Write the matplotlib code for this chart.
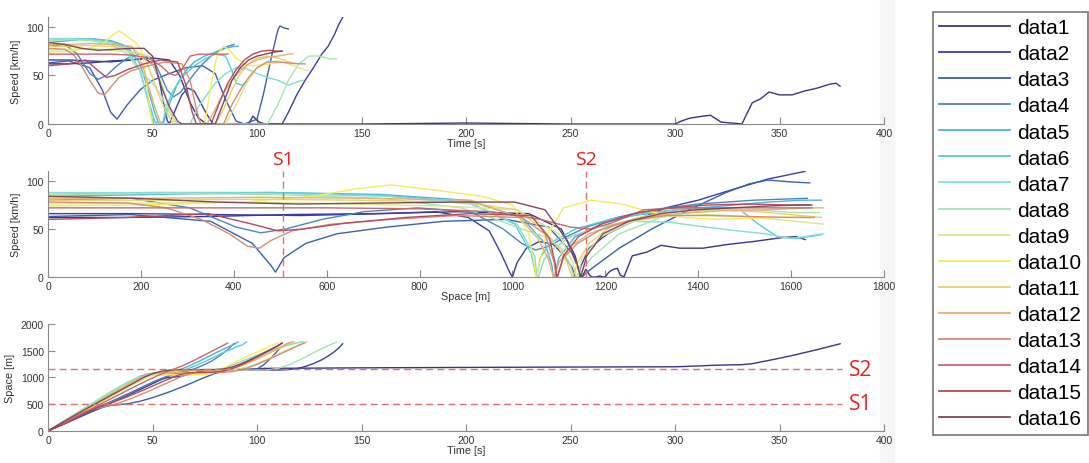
import numpy as np
import matplotlib
matplotlib.use('Agg')
import matplotlib.pyplot as plt
from matplotlib.patches import Rectangle

plt.rcParams['font.family'] = ['Liberation Sans', 'DejaVu Sans']

# each row: time [s], position [m], speed [km/h]
data1 = [(0, 0, 62), (10, 172, 62), (20, 345, 63), (30, 520, 65), (40, 700, 66), (50, 885, 68),
         (58, 1035, 66), (63, 1105, 50), (68, 1135, 22), (72, 1143, 6), (76, 1146, 0), (96, 1150, 0),
         (98, 1158, 8), (101, 1166, 2), (104, 1170, 0), (150, 1180, 0), (200, 1188, 1), (250, 1195, 0),
         (300, 1200, 0), (303, 1204, 3), (307, 1210, 6), (313, 1218, 8), (317, 1226, 9), (322, 1232, 2),
         (332, 1240, 0), (337, 1258, 22), (341, 1290, 26), (345, 1320, 33), (350, 1360, 30),
         (356, 1410, 30), (362, 1465, 34), (368, 1520, 37), (374, 1580, 41), (377, 1610, 42), (379, 1630, 39)]
data2 = [(0, 0, 66), (10, 183, 66), (20, 365, 65), (30, 545, 64), (40, 725, 66), (46, 835, 68),
         (50, 905, 62), (53, 950, 48), (55, 975, 25), (57, 995, 4), (58, 1000, 0), (61, 1010, 15),
         (64, 1030, 30), (67, 1058, 37), (70, 1088, 34), (73, 1112, 22), (76, 1128, 10), (79, 1135, 0),
         (112, 1140, 0), (115, 1148, 12), (119, 1165, 30), (123, 1205, 45), (127, 1260, 58),
         (131, 1330, 72), (134, 1400, 80), (137, 1480, 92), (139, 1550, 102), (141, 1630, 110)]
data3 = [(0, 0, 63), (10, 178, 65), (20, 350, 58), (26, 440, 35), (30, 480, 12), (33, 490, 5),
         (38, 508, 20), (44, 555, 35), (50, 622, 45), (58, 730, 52), (66, 852, 58), (74, 985, 60),
         (80, 1078, 52), (85, 1128, 25), (90, 1147, 3), (94, 1150, 0), (100, 1160, 5), (103, 1230, 30),
         (105, 1300, 50), (107, 1380, 70), (109, 1460, 88), (110, 1510, 97), (111, 1550, 101),
         (113, 1600, 99), (115, 1640, 98)]
data4 = [(0, 0, 80), (8, 178, 82), (14, 305, 72), (20, 405, 52), (24, 458, 46), (28, 512, 50),
         (33, 590, 60), (38, 680, 68), (44, 795, 72), (50, 910, 68), (54, 980, 50), (57, 1020, 35),
         (60, 1050, 28), (63, 1078, 32), (66, 1108, 40), (70, 1160, 52), (74, 1225, 62), (78, 1300, 70),
         (82, 1400, 76), (86, 1520, 80), (89, 1635, 82)]
data5 = [(0, 0, 84), (10, 235, 86), (20, 475, 88), (30, 715, 86), (38, 900, 80), (44, 1020, 62),
         (48, 1070, 35), (51, 1085, 12), (53, 1088, 0), (55, 1090, 0), (58, 1100, 20), (62, 1135, 42),
         (66, 1190, 55), (70, 1260, 64), (75, 1355, 70), (80, 1455, 74), (85, 1550, 78), (89, 1620, 80),
         (91, 1665, 80)]
data6 = [(0, 0, 86), (10, 240, 88), (20, 485, 88), (30, 725, 85), (38, 905, 78), (44, 1005, 55),
         (48, 1040, 25), (51, 1050, 3), (53, 1052, 0), (55, 1053, 2), (57, 1060, 20), (60, 1080, 35),
         (65, 1135, 50), (70, 1210, 60), (75, 1295, 67), (80, 1390, 72), (85, 1490, 70), (88, 1530, 55),
         (90, 1570, 42), (93, 1610, 40), (95, 1665, 44)]
data7 = [(0, 0, 88), (10, 245, 88), (20, 490, 87), (30, 730, 84), (38, 910, 76), (44, 1010, 55),
         (48, 1048, 22), (50, 1052, 3), (52, 1054, 0), (68, 1056, 0), (72, 1068, 18), (76, 1090, 30),
         (80, 1125, 42), (85, 1185, 52), (90, 1260, 58), (95, 1340, 57), (100, 1415, 52),
         (105, 1485, 48), (110, 1545, 45), (115, 1600, 40), (120, 1655, 44), (122, 1670, 45)]
data8 = [(0, 0, 86), (10, 240, 87), (20, 480, 86), (30, 715, 82), (38, 890, 72), (42, 965, 60),
         (46, 1020, 50), (50, 1070, 42), (54, 1105, 30), (58, 1125, 12), (62, 1132, 0), (105, 1140, 0),
         (110, 1170, 20), (115, 1230, 45), (120, 1320, 62), (125, 1420, 70), (130, 1520, 70),
         (135, 1610, 67), (138, 1660, 67)]
data9 = [(0, 0, 76), (10, 212, 77), (20, 425, 78), (30, 640, 76), (40, 850, 74), (48, 1010, 70),
         (54, 1100, 45), (58, 1130, 15), (61, 1138, 0), (85, 1140, 0), (90, 1150, 20), (95, 1190, 42),
         (100, 1260, 58), (105, 1345, 64), (110, 1435, 65), (115, 1525, 62), (120, 1610, 58),
         (124, 1670, 55)]
data10 = [(0, 0, 74), (10, 205, 75), (20, 415, 78), (27, 570, 84), (31, 665, 92), (34, 740, 96),
          (38, 840, 90), (42, 935, 84), (45, 1000, 75), (47, 1035, 45), (49, 1048, 10), (50, 1050, 0),
          (75, 1052, 0), (78, 1070, 40), (81, 1110, 72), (84, 1170, 80), (87, 1235, 76), (90, 1295, 68),
          (94, 1370, 62), (98, 1440, 60), (102, 1510, 61), (106, 1580, 62), (110, 1650, 63)]
data11 = [(0, 0, 80), (10, 222, 80), (20, 445, 81), (30, 668, 80), (40, 890, 78), (46, 1010, 70),
          (50, 1070, 48), (53, 1100, 30), (56, 1118, 15), (60, 1128, 0), (80, 1130, 0), (84, 1140, 15),
          (88, 1165, 35), (92, 1210, 52), (96, 1270, 62), (100, 1340, 68), (105, 1435, 70),
          (110, 1530, 68), (115, 1620, 64), (118, 1665, 62)]
data12 = [(0, 0, 82), (10, 228, 82), (20, 455, 83), (30, 685, 82), (40, 910, 80), (45, 1015, 62),
          (48, 1055, 40), (51, 1078, 18), (54, 1088, 0), (76, 1090, 0), (80, 1100, 15), (84, 1125, 32),
          (88, 1165, 45), (92, 1220, 55), (96, 1285, 62), (100, 1355, 66), (105, 1450, 69),
          (110, 1545, 70), (115, 1640, 72), (117, 1670, 72)]
data13 = [(0, 0, 78), (8, 172, 77), (12, 255, 72), (16, 330, 60), (20, 390, 45), (24, 430, 32),
          (27, 455, 30), (30, 480, 38), (34, 525, 48), (40, 610, 55), (48, 740, 60), (56, 880, 64),
          (64, 1020, 62), (68, 1070, 45), (71, 1090, 15), (73, 1094, 0), (84, 1096, 0), (88, 1110, 20),
          (92, 1140, 35), (96, 1185, 48), (100, 1245, 58), (105, 1330, 64), (110, 1420, 64),
          (115, 1510, 63), (120, 1600, 62), (123, 1650, 62)]
data14 = [(0, 0, 72), (10, 200, 72), (20, 400, 72), (30, 600, 72), (40, 800, 71), (48, 955, 68),
          (54, 1060, 60), (58, 1125, 52), (61, 1168, 50), (64, 1212, 56), (68, 1283, 70),
          (72, 1363, 72), (76, 1443, 72), (80, 1523, 72), (85, 1623, 72), (86, 1645, 72)]
data15 = [(0, 0, 60), (10, 170, 62), (18, 345, 66), (24, 440, 55), (28, 495, 48), (32, 550, 50),
          (38, 640, 56), (46, 770, 62), (54, 910, 66), (62, 1040, 64), (66, 1080, 40), (69, 1093, 12),
          (71, 1095, 0), (78, 1097, 0), (82, 1110, 22), (86, 1142, 42), (90, 1195, 56), (94, 1262, 66),
          (98, 1340, 72), (102, 1422, 75), (106, 1506, 76), (110, 1590, 75), (112, 1640, 75)]
data16 = [(0, 0, 84), (8, 185, 82), (16, 365, 78), (24, 535, 76), (32, 705, 77), (40, 875, 78),
          (46, 1005, 78), (50, 1070, 70), (54, 1115, 40), (58, 1137, 18), (62, 1145, 3), (64, 1146, 0),
          (80, 1147, 0), (84, 1160, 22), (88, 1195, 45), (92, 1250, 58), (96, 1320, 66), (100, 1395, 70),
          (104, 1475, 72), (108, 1555, 74), (111, 1620, 75), (112, 1645, 75)]

series = [data1, data2, data3, data4, data5, data6, data7, data8,
          data9, data10, data11, data12, data13, data14, data15, data16]
labels = ['data%d' % (i + 1) for i in range(16)]
colors = ['#35358a', '#3a3fa5', '#3b5fb0', '#4a86c0', '#4fb4d8', '#5ccbe0', '#85dcd8', '#a8e4b0',
          '#d6ea8c', '#f4ec5c', '#ead070', '#e2b274', '#d48e72', '#c86868', '#b64a5c', '#7e4858']

s1_pos = 505
s2_pos = 1158

fig = plt.figure(figsize=(10.89, 4.64), dpi=100)
fig.patches.append(Rectangle((880 / 1089, 0), 14 / 1089, 1, transform=fig.transFigure,
                             color='#f6f6f6', zorder=-1))

ax1 = fig.add_axes([48 / 1089, 0.7306, 836 / 1089, 0.230])
ax2 = fig.add_axes([48 / 1089, 0.4009, 836 / 1089, 0.2276])
ax3 = fig.add_axes([48 / 1089, 0.069, 836 / 1089, 0.2306])

handles = []
for rows, c, lab in zip(series, colors, labels):
    t, x, v = np.array(rows, dtype=float).T
    h, = ax1.plot(t, v, color=c, lw=1.0, label=lab)
    ax2.plot(x, v, color=c, lw=1.0)
    ax3.plot(t, x, color=c, lw=1.0)
    handles.append(h)

red = '#e8201c'
dash = '#e07070'
for xp, name in [(s1_pos, 'S1'), (s2_pos, 'S2')]:
    ax2.axvline(xp, color=dash, lw=1.0, ls=(0, (5, 3)))
    ax2.text(xp, 1.115, name, transform=ax2.get_xaxis_transform(), color=red,
             fontsize=14, ha='center', va='center', family=['Open Sans', 'DejaVu Sans'])
for yp, name in [(s1_pos, 'S1'), (s2_pos, 'S2')]:
    ax3.plot([0, 380], [yp, yp], color=dash, lw=1.0, ls=(0, (5, 3)))
    ax3.text(383, yp, name, color=red, fontsize=15, ha='left', va='center',
             family=['Open Sans', 'DejaVu Sans'], clip_on=False)

ax1.set_xlim(0, 400)
ax1.set_ylim(0, 110)
ax1.set_yticks([0, 50, 100])
ax1.set_xticks(range(0, 401, 50))
ax1.set_xlabel('Time [s]', labelpad=0)
ax1.set_ylabel('Speed [km/h]')

ax2.set_xlim(0, 1800)
ax2.set_ylim(0, 110)
ax2.set_yticks([0, 50, 100])
ax2.set_xticks(range(0, 1801, 200))
ax2.set_xlabel('Space [m]', labelpad=0)
ax2.set_ylabel('Speed [km/h]')

ax3.set_xlim(0, 400)
ax3.set_ylim(0, 2000)
ax3.set_yticks(range(0, 2001, 500))
ax3.set_xticks(range(0, 401, 50))
ax3.set_xlabel('Time [s]', labelpad=0)
ax3.set_ylabel('Space [m]')

for ax in (ax1, ax2, ax3):
    for side in ('top', 'right'):
        ax.spines[side].set_visible(False)
    for side in ('left', 'bottom'):
        ax.spines[side].set_color('#8a8a8a')
    ax.tick_params(direction='in', length=5, color='#8a8a8a', labelsize=7.5,
                   labelcolor='#333333', pad=3)
    ax.xaxis.label.set_size(7.8)
    ax.yaxis.label.set_size(7.8)
    ax.xaxis.label.set_color('#333333')
    ax.yaxis.label.set_color('#333333')
    ax.patch.set_alpha(0)

leg = fig.legend(handles, labels, loc='upper left', bbox_to_anchor=(933 / 1089, 1 - 13 / 464),
                 fontsize=15, handlelength=3.4, handletextpad=0.35, labelspacing=0.34,
                 borderpad=0.3, frameon=True, fancybox=False, borderaxespad=0)
leg.get_frame().set_edgecolor('#555555')
leg.get_frame().set_linewidth(1.2)
for line in leg.get_lines():
    line.set_linewidth(1.3)

fig.savefig('out.png', dpi=100)
